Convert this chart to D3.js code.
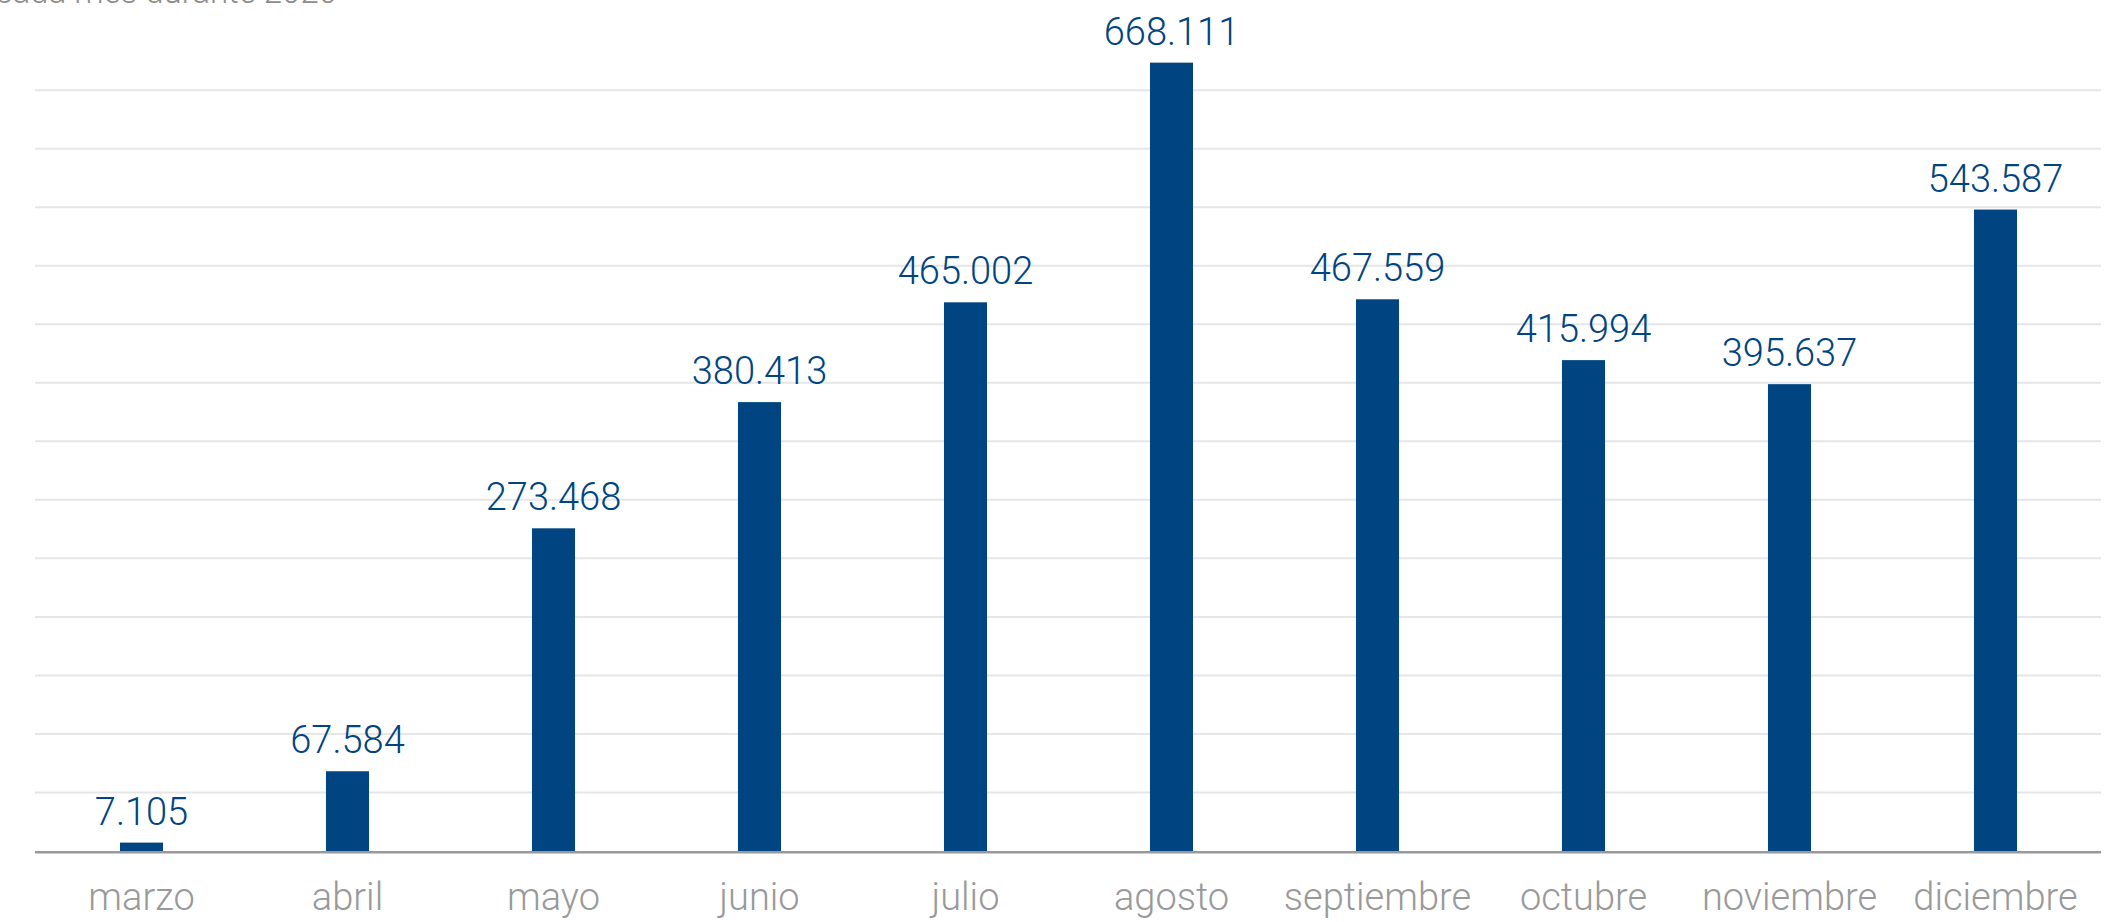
<!DOCTYPE html>
<html>
<head>
<meta charset="utf-8">
<script src="https://cdn.jsdelivr.net/npm/d3@7"></script>
<style>
  html, body { margin: 0; padding: 0; background: #ffffff; }
  svg { display: block; }
</style>
</head>
<body>
<svg id="chart" width="2116" height="922"></svg>
<script>
// ---- data ----
const categories = ["marzo", "abril", "mayo", "junio", "julio", "agosto", "septiembre", "octubre", "noviembre", "diciembre"];
const values = [7105, 67584, 273468, 380413, 465002, 668111, 467559, 415994, 395637, 543587];
const valueLabels = ["7.105", "67.584", "273.468", "380.413", "465.002", "668.111", "467.559", "415.994", "395.637", "543.587"];
const gridValues = [49600, 99200, 148800, 198400, 248000, 297600, 347200, 396800, 446400, 496000, 545600, 595200, 644800];
const titleText = "cada mes durante 2020";

// ---- layout ----
const W = 2116, H = 922;
const baseY = 851;
const pxPerUnit = 0.00118;
const svg = d3.select("#chart");

const x = d3.scaleBand()
  .domain(categories)
  .range([38.5, 2098.5])
  .paddingInner(0.791)
  .paddingOuter(0.3955);

const y = d3.scaleLinear()
  .domain([0, 700000])
  .range([baseY, baseY - 700000 * pxPerUnit]);

// cut-off title at the top
svg.append("text")
  .attr("x", 337)
  .attr("y", 3)
  .attr("text-anchor", "end")
  .attr("fill", "#8c8c8c")
  .style("font-family", "Roboto, 'Open Sans', sans-serif")
  .style("font-weight", 300)
  .style("font-size", "33px")
  .text(titleText);

// gridlines
svg.append("g")
  .selectAll("line")
  .data(gridValues)
  .join("line")
  .attr("x1", 35)
  .attr("x2", 2101)
  .attr("y1", d => y(d))
  .attr("y2", d => y(d))
  .attr("stroke", "#e6e6e6")
  .attr("stroke-width", 2);

// bars
svg.append("g")
  .selectAll("rect")
  .data(values)
  .join("rect")
  .attr("x", (d, i) => x(categories[i]))
  .attr("width", x.bandwidth())
  .attr("y", d => y(d))
  .attr("height", d => y(0) - y(d))
  .attr("fill", "#004481");

// value labels
svg.append("g")
  .selectAll("text")
  .data(values)
  .join("text")
  .attr("x", (d, i) => x(categories[i]) + x.bandwidth() / 2)
  .attr("y", d => y(d) - 18)
  .attr("text-anchor", "middle")
  .attr("fill", "#004481")
  .style("font-family", "Roboto, 'Open Sans', sans-serif")
  .style("font-weight", 300)
  .style("font-size", "38px")
  .text((d, i) => valueLabels[i]);

// baseline axis
const xAxis = d3.axisBottom(x).tickSize(0).tickPadding(0);
const axisG = svg.append("g")
  .attr("transform", `translate(0, ${baseY + 1.2})`)
  .call(xAxis);
axisG.select(".domain").remove();
axisG.append("line")
  .attr("x1", 35)
  .attr("x2", 2101)
  .attr("y1", 0)
  .attr("y2", 0)
  .attr("stroke", "#999999")
  .attr("stroke-width", 2.5);
axisG.selectAll(".tick text")
  .attr("y", 58)
  .attr("dy", 0)
  .attr("fill", "#999999")
  .style("font-family", "Roboto, 'Open Sans', sans-serif")
  .style("font-weight", 300)
  .style("font-size", "38px");
</script>
</body>
</html>
